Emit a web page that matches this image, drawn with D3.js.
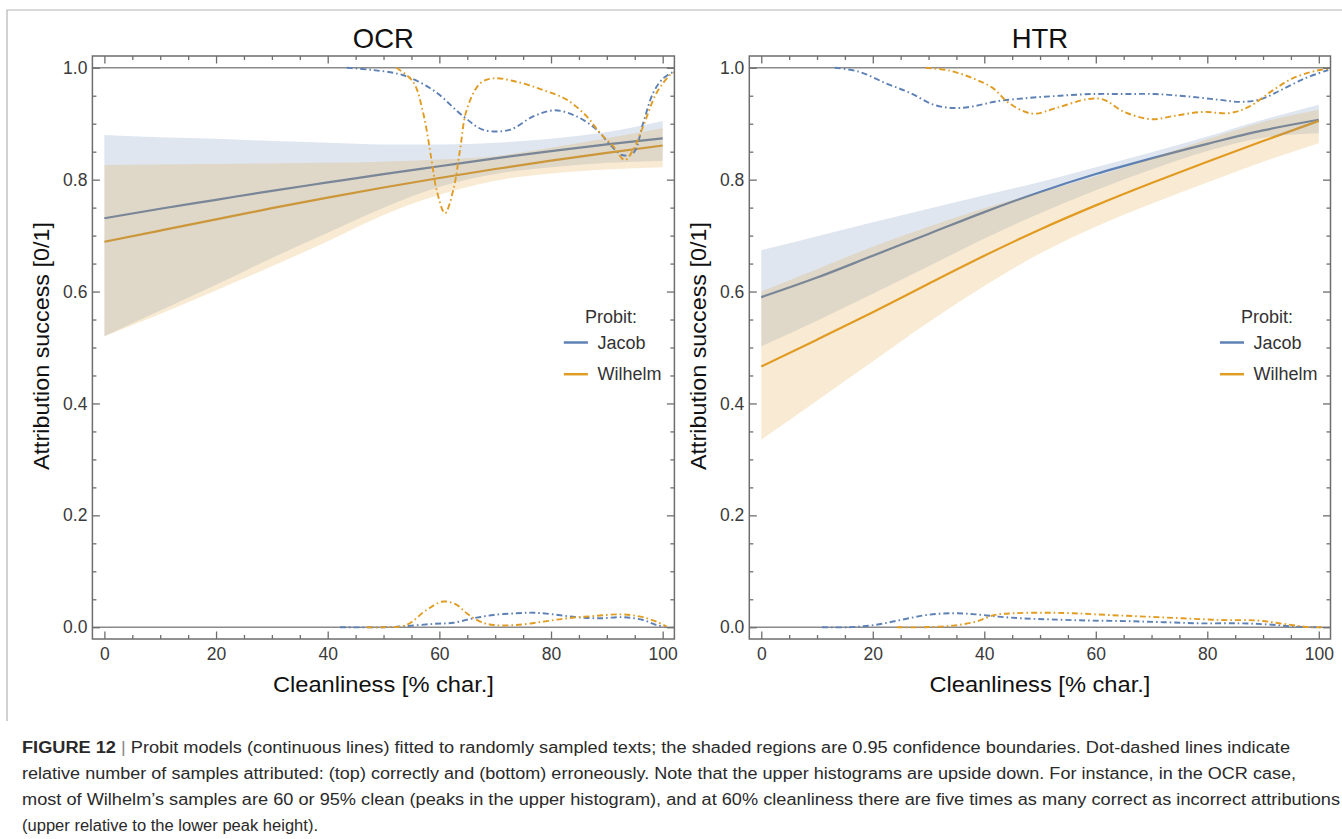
<!DOCTYPE html>
<html>
<head>
<meta charset="utf-8">
<script src="https://cdn.jsdelivr.net/npm/d3@7"></script>
<style>
  body { margin: 0; background: #fff; }
  svg text { font-family: "Liberation Sans", Arial, Helvetica, sans-serif; }
</style>
</head>
<body>
<svg id="fig" width="1342" height="839"></svg>
<script>
// ---- data ----
var cleanX = [0, 10, 20, 30, 40, 50, 60, 70, 80, 90, 100];

// OCR probit fits + 0.95 bounds
var ocrJacobFit = [0.731, 0.748, 0.764, 0.780, 0.795, 0.810, 0.824, 0.838, 0.851, 0.863, 0.874];
var ocrJacobHi  = [0.880, 0.876, 0.873, 0.869, 0.866, 0.863, 0.863, 0.866, 0.873, 0.885, 0.905];
var ocrJacobLo  = [0.520, 0.566, 0.612, 0.660, 0.705, 0.750, 0.787, 0.810, 0.822, 0.830, 0.834];
var ocrWilhelmFit = [0.689, 0.709, 0.729, 0.749, 0.768, 0.786, 0.803, 0.819, 0.834, 0.848, 0.861];
var ocrWilhelmHi  = [0.826, 0.827, 0.828, 0.829, 0.830, 0.832, 0.836, 0.842, 0.857, 0.874, 0.892];
var ocrWilhelmLo  = [0.520, 0.560, 0.602, 0.645, 0.690, 0.737, 0.773, 0.798, 0.811, 0.818, 0.822];

// HTR probit fits + 0.95 bounds
var htrJacobFit = [0.590, 0.625, 0.664, 0.703, 0.742, 0.778, 0.810, 0.838, 0.864, 0.888, 0.907];
var htrJacobHi  = [0.674, 0.699, 0.724, 0.748, 0.772, 0.796, 0.822, 0.849, 0.877, 0.907, 0.934];
var htrJacobLo  = [0.502, 0.548, 0.596, 0.645, 0.695, 0.740, 0.781, 0.818, 0.851, 0.875, 0.883];
var htrWilhelmFit = [0.466, 0.514, 0.563, 0.614, 0.664, 0.711, 0.754, 0.794, 0.832, 0.869, 0.905];
var htrWilhelmHi  = [0.600, 0.640, 0.680, 0.716, 0.749, 0.777, 0.806, 0.838, 0.872, 0.903, 0.925];
var htrWilhelmLo  = [0.335, 0.405, 0.475, 0.545, 0.610, 0.668, 0.716, 0.757, 0.795, 0.832, 0.865];

// smoothed histograms [cleanliness, height] (top ones are upside down)
var ocrJacobTop = [[43.4,1.0],[48,0.996],[53.4,0.987],[58.9,0.960],[64.3,0.913],[67.9,0.889],[72.6,0.889],[76.8,0.913],
  [80.7,0.924],[84.6,0.913],[88.2,0.889],[90.9,0.859],[92.7,0.844],[94.7,0.847],[96.5,0.901],[98.3,0.955],[100.1,0.981],[102,0.993]];
var ocrWilhelmTop = [[52.3,1.0],[55.3,0.975],[57.1,0.919],[58.6,0.835],[59.5,0.782],[61.0,0.740],[62.5,0.782],[63.7,0.853],
  [64.9,0.925],[67.3,0.972],[69.7,0.981],[73.8,0.975],[78.6,0.960],[82.8,0.943],[86.4,0.913],[88.8,0.883],[91.2,0.859],
  [93.2,0.835],[94.7,0.853],[96.5,0.895],[98.9,0.955],[101.3,0.987],[102,0.992]];
var ocrJacobBottom = [[42.2,0],[50,0],[54,0.002],[58.9,0.006],[62.5,0.008],[66.1,0.016],[69.7,0.022],[73.8,0.025],[76.8,0.026],
  [80.4,0.023],[84.6,0.018],[88.7,0.016],[92.9,0.018],[96.5,0.013],[98.9,0.004],[100.7,0.001]];
var ocrWilhelmBottom = [[47,0],[50,0],[54.1,0.004],[57.7,0.031],[60.7,0.046],[63.1,0.040],[64.9,0.025],[67.3,0.010],[69.7,0.004],
  [73.8,0.004],[78.6,0.010],[82.8,0.016],[87.6,0.020],[92.4,0.023],[96,0.019],[98.9,0.010],[100.7,0.001]];

var htrJacobTop = [[13.2,1.0],[17.5,0.993],[22.4,0.972],[26.7,0.955],[30.9,0.934],[34.5,0.928],[38,0.931],[42.2,0.940],
  [47.9,0.946],[53.6,0.950],[59.2,0.953],[64.9,0.953],[70.6,0.953],[76.2,0.949],[81.9,0.943],[86.1,0.939],[89.7,0.944],
  [93.2,0.960],[97.5,0.981],[101.7,0.996]];
var htrWilhelmTop = [[29.5,1.0],[33.7,0.995],[38,0.981],[41.5,0.964],[44.4,0.937],[48.6,0.918],[52.9,0.928],[58.5,0.944],
  [61.4,0.943],[64.9,0.922],[69.9,0.908],[74.1,0.914],[79.1,0.921],[84,0.919],[87.6,0.931],[91.8,0.960],[95.3,0.981],
  [99.6,0.995],[101.7,0.998]];
var htrJacobBottom = [[10.9,0],[15.6,0],[20.3,0.004],[25,0.013],[29.7,0.022],[34.4,0.025],[38.5,0.023],[42.5,0.019],[46.6,0.016],
  [52,0.014],[58.7,0.012],[65.4,0.011],[72.2,0.009],[78.9,0.007],[85.7,0.007],[91,0.005],[95.8,0.001],[100.5,0]];
var htrWilhelmBottom = [[24.3,0],[29,0],[34.4,0.003],[38.5,0.010],[41.9,0.022],[45.2,0.025],[50.6,0.026],[56,0.025],[62.1,0.022],
  [68.8,0.019],[75.5,0.016],[82.3,0.013],[89,0.012],[93.7,0.006],[98.5,0],[100.5,0]];

var seriesNames = ["Jacob", "Wilhelm"];
var xMajor = [0, 20, 40, 60, 80, 100];
var yMajor = [0.0, 0.2, 0.4, 0.6, 0.8, 1.0];

var captionLines = [
  "Probit models (continuous lines) fitted to randomly sampled texts; the shaded regions are 0.95 confidence boundaries. Dot-dashed lines indicate",
  "relative number of samples attributed: (top) correctly and (bottom) erroneously. Note that the upper histograms are upside down. For instance, in the OCR case,",
  "most of Wilhelm\u2019s samples are 60 or 95% clean (peaks in the upper histogram), and at 60% cleanliness there are five times as many correct as incorrect attributions",
  "(upper relative to the lower peak height)."
];

// ---- styling ----
var col_blue = "#5E81B5";
var col_orange = "#E19C24";
var frameTop = 56, frameBottom = 639;

var svg = d3.select("#fig");
svg.append("rect").attr("width", 1342).attr("height", 839).attr("fill", "#fff");

// figure box (top + left edges)
svg.append("path")
  .attr("d", "M7,721V10H1342")
  .attr("fill", "none").attr("stroke", "#b5b5b5").attr("stroke-width", 1.2);

var panels = [
  { id: "ocr", title: "OCR", left: 92.4, right: 674.4,
    fit: [ocrJacobFit, ocrWilhelmFit], hi: [ocrJacobHi, ocrWilhelmHi], lo: [ocrJacobLo, ocrWilhelmLo],
    top: [ocrJacobTop, ocrWilhelmTop], bottom: [ocrJacobBottom, ocrWilhelmBottom] },
  { id: "htr", title: "HTR", left: 749.3, right: 1330.5,
    fit: [htrJacobFit, htrWilhelmFit], hi: [htrJacobHi, htrWilhelmHi], lo: [htrJacobLo, htrWilhelmLo],
    top: [htrJacobTop, htrWilhelmTop], bottom: [htrJacobBottom, htrWilhelmBottom] }
];
var colors = [col_blue, col_orange];

panels.forEach(function (p) {
  var x = d3.scaleLinear().domain([-2.15, 102.1]).range([p.left, p.right]);
  var y = d3.scaleLinear().domain([-0.021, 1.021]).range([frameBottom, frameTop]);

  var g = svg.append("g");
  g.append("clipPath").attr("id", p.id + "-clip")
    .append("rect").attr("x", p.left).attr("y", frameTop)
    .attr("width", p.right - p.left).attr("height", frameBottom - frameTop);
  var plot = g.append("g").attr("clip-path", "url(#" + p.id + "-clip)");

  // reference lines at 0 and 1
  plot.selectAll("line.ref").data([0, 1]).enter().append("line")
    .attr("class", "ref")
    .attr("x1", p.left).attr("x2", p.right)
    .attr("y1", function (d) { return y(d); }).attr("y2", function (d) { return y(d); })
    .attr("stroke", "#8a8a8a").attr("stroke-width", 1.4);

  var idx = d3.range(cleanX.length);
  var fitLine = function (vals) {
    return d3.line()
      .x(function (i) { return x(cleanX[i]); })
      .y(function (i) { return y(vals[i]); })
      .curve(d3.curveMonotoneX)(idx);
  };
  var band = function (lo, hi) {
    return d3.area()
      .x(function (i) { return x(cleanX[i]); })
      .y0(function (i) { return y(lo[i]); })
      .y1(function (i) { return y(hi[i]); })
      .curve(d3.curveMonotoneX)(idx);
  };

  // fitted probit lines (under the translucent bands)
  [0, 1].forEach(function (s) {
    plot.append("path").attr("d", fitLine(p.fit[s]))
      .attr("fill", "none").attr("stroke", colors[s]).attr("stroke-width", 2.2);
  });
  // confidence bands
  [0, 1].forEach(function (s) {
    plot.append("path").attr("d", band(p.lo[s], p.hi[s]))
      .attr("fill", colors[s]).attr("fill-opacity", 0.2).attr("stroke", "none");
  });

  // dot-dashed histograms
  var histLine = d3.line()
    .x(function (d) { return x(d[0]); })
    .y(function (d) { return y(d[1]); })
    .curve(d3.curveCatmullRom.alpha(0.5));
  [0, 1].forEach(function (s) {
    [p.top[s], p.bottom[s]].forEach(function (h) {
      plot.append("path").attr("d", histLine(h))
        .attr("fill", "none").attr("stroke", colors[s]).attr("stroke-width", 1.9)
        .attr("stroke-dasharray", "6,3,1.6,3");
    });
  });

  // frame
  g.append("rect").attr("x", p.left).attr("y", frameTop)
    .attr("width", p.right - p.left).attr("height", frameBottom - frameTop)
    .attr("fill", "none").attr("stroke", "#6e6e6e").attr("stroke-width", 1.5);

  var xMinor = d3.range(0, 101, 5).filter(function (v) { return v % 20 !== 0; });
  var yMinor = d3.range(0, 21).map(function (k) { return k * 0.05; })
    .filter(function (v) { return Math.abs(v * 5 - Math.round(v * 5)) > 1e-6; });

  function styleAxis(sel) {
    sel.select(".domain").remove();
    sel.selectAll(".tick line").attr("stroke", "#6e6e6e").attr("stroke-width", 1.3);
    sel.selectAll(".tick text").attr("fill", "#3a3a3a").style("font-size", "17.5px");
  }

  // bottom
  g.append("g").attr("transform", "translate(0," + frameBottom + ")")
    .call(d3.axisBottom(x).tickValues(xMajor).tickFormat(d3.format("d")).tickSize(-7.5).tickPadding(9))
    .call(styleAxis);
  g.append("g").attr("transform", "translate(0," + frameBottom + ")")
    .call(d3.axisBottom(x).tickValues(xMinor).tickFormat("").tickSize(-4))
    .call(styleAxis);
  // top
  g.append("g").attr("transform", "translate(0," + frameTop + ")")
    .call(d3.axisTop(x).tickValues(xMajor).tickFormat("").tickSize(-7.5))
    .call(styleAxis);
  g.append("g").attr("transform", "translate(0," + frameTop + ")")
    .call(d3.axisTop(x).tickValues(xMinor).tickFormat("").tickSize(-4))
    .call(styleAxis);
  // left
  g.append("g").attr("transform", "translate(" + p.left + ",0)")
    .call(d3.axisLeft(y).tickValues(yMajor).tickFormat(d3.format(".1f")).tickSize(-7.5).tickPadding(5))
    .call(styleAxis);
  g.append("g").attr("transform", "translate(" + p.left + ",0)")
    .call(d3.axisLeft(y).tickValues(yMinor).tickFormat("").tickSize(-4))
    .call(styleAxis);
  // right
  g.append("g").attr("transform", "translate(" + p.right + ",0)")
    .call(d3.axisRight(y).tickValues(yMajor).tickFormat("").tickSize(-7.5))
    .call(styleAxis);
  g.append("g").attr("transform", "translate(" + p.right + ",0)")
    .call(d3.axisRight(y).tickValues(yMinor).tickFormat("").tickSize(-4))
    .call(styleAxis);

  // titles
  var cx = (p.left + p.right) / 2;
  g.append("text").attr("x", cx).attr("y", 48).attr("text-anchor", "middle")
    .style("font-size", "27.5px").attr("fill", "#111").text(p.title);
  g.append("text").attr("x", cx).attr("y", 692).attr("text-anchor", "middle")
    .attr("textLength", 221).attr("lengthAdjust", "spacingAndGlyphs")
    .style("font-size", "22px").attr("fill", "#111").text("Cleanliness [% char.]");
  g.append("text")
    .attr("transform", "translate(" + (p.left - 43) + ",346) rotate(-90)")
    .attr("text-anchor", "middle")
    .attr("textLength", 248).attr("lengthAdjust", "spacingAndGlyphs")
    .style("font-size", "22px").attr("fill", "#111").text("Attribution success [0/1]");

  // legend
  var lg = g.append("g").attr("transform", "translate(" + p.right + ",0)");
  lg.append("text").attr("x", -63.5).attr("y", 323).attr("text-anchor", "middle")
    .style("font-size", "18px").attr("fill", "#333").text("Probit:");
  seriesNames.forEach(function (name, s) {
    var ly = 342.5 + s * 31.7;
    lg.append("line").attr("x1", -110.6).attr("x2", -86.5).attr("y1", ly).attr("y2", ly)
      .attr("stroke", colors[s]).attr("stroke-width", 2.5);
    lg.append("text").attr("x", -77).attr("y", ly + 6)
      .style("font-size", "18px").attr("fill", "#333").text(name);
  });
});

// caption
var cap = svg.append("g").style("font-size", "15.8px").attr("fill", "#2a2a2a");
var capWidths = [1268, 1274, 1318, 296];
captionLines.forEach(function (line, i) {
  var t = cap.append("text").attr("x", 22).attr("y", 753 + i * 26)
    .attr("textLength", capWidths[i]).attr("lengthAdjust", "spacingAndGlyphs");
  if (i === 0) {
    t.append("tspan").style("font-weight", "bold").text("FIGURE 12");
    t.append("tspan").attr("fill", "#888").text(" | ");
  }
  t.append("tspan").text(line);
});
</script>
</body>
</html>
